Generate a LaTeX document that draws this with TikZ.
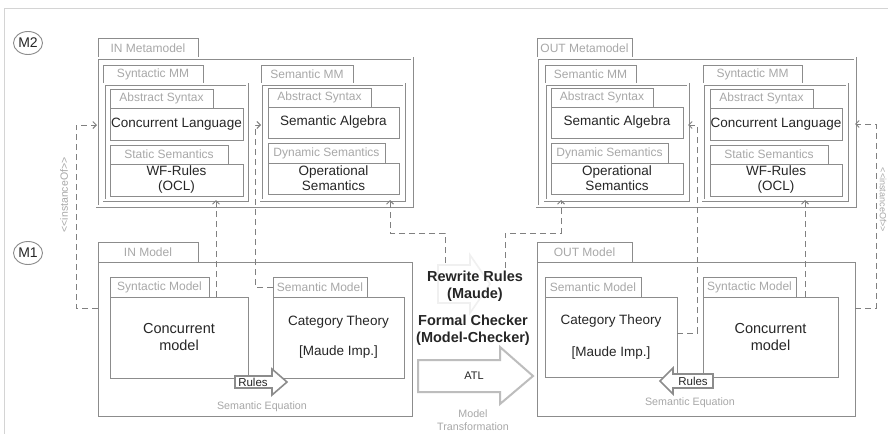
\documentclass[tikz,border=0pt]{standalone}
\usepackage{fontspec}
\setmainfont{Liberation Sans}
\usetikzlibrary{arrows.meta}
\definecolor{boxline}{HTML}{8C8C8C}
\definecolor{tabtext}{HTML}{A8A8A8}
\definecolor{maintext}{HTML}{262626}
\definecolor{dashcol}{HTML}{808080}
\definecolor{framecol}{HTML}{D4D4D4}
\definecolor{bigarrow}{HTML}{BDBDBD}
\tikzset{
  base/.style={anchor=north west, inner sep=0pt, outer sep=0pt},
  tabbox/.style={base, draw=boxline, line width=0.9pt, fill=white, text=tabtext,
    font=\fontsize{12}{12}\selectfont},
  pkg/.style={base, draw=boxline, double=white, double distance=1.6pt, line width=0.7pt},
  plainpkg/.style={base, draw=boxline, line width=1pt},
  elbox/.style={base, draw=boxline, line width=1pt, fill=white, text=maintext, align=center,
    font=\fontsize{13.5}{15}\selectfont},
  modelbox/.style={base, draw=boxline, line width=1pt, text=maintext, align=center},
  level/.style={draw=boxline, line width=0.9pt, ellipse, minimum width=29pt, minimum height=23pt,
    inner sep=0pt, text=maintext, font=\fontsize{14}{14}\selectfont},
  dashline/.style={draw=dashcol, line width=1pt, dash pattern=on 6pt off 4pt},
  tiphead/.style={-{Straight Barb[length=3.5pt,width=7pt,line width=1pt]}},
  graytext/.style={text=tabtext, inner sep=0pt, align=center},
  boldtext/.style={text=maintext, inner sep=0pt, align=center,
    font=\fontsize{14.5}{17}\selectfont\bfseries},
}
\usetikzlibrary{shapes.geometric}
\begin{document}
\begin{tikzpicture}[x=1pt,y=-1pt]
\useasboundingbox (0,0) rectangle (888,434);
\fill[white] (0,0) rectangle (888,434);
% page frame
\draw[framecol, line width=0.8pt] (888,8) -- (4,8) -- (4,434);

% level markers
\node[level] (m2) at (28,43) {M2};
\node[level] (m1) at (28,253) {M1};

% ---------------- IN Metamodel ----------------
\node[tabbox, minimum width=100pt, minimum height=20pt] (inmmTab) at (98,38) {IN Metamodel};
\node[pkg, minimum width=315pt, minimum height=148pt] (inmm) at (97,58) {};
\node[tabbox, minimum width=100pt, minimum height=19pt] (synmmTab) at (103,65) {Syntactic MM};
\node[pkg, minimum width=143pt, minimum height=116pt] (synmm) at (104,84) {};
\node[tabbox, minimum width=103pt, minimum height=19pt] (as1Tab) at (110,89) {Abstract Syntax};
\node[elbox, minimum width=133pt, minimum height=32pt] (cl1) at (110,108) {Concurrent Language};
\node[tabbox, minimum width=118pt, minimum height=19pt] (ss1Tab) at (110,145) {Static Semantics};
\node[elbox, minimum width=133pt, minimum height=32pt] (wf1) at (110,164) {WF-Rules\\(OCL)};
\node[tabbox, minimum width=92pt, minimum height=19pt] (semmmTab) at (261,65) {Semantic MM};
\node[pkg, minimum width=143pt, minimum height=116pt] (semmm) at (261,84) {};
\node[tabbox, minimum width=103pt, minimum height=19pt] (as2Tab) at (268,88) {Abstract Syntax};
\node[elbox, minimum width=131pt, minimum height=31pt] (sa1) at (268,107) {Semantic Algebra};
\node[tabbox, minimum width=117pt, minimum height=20pt] (ds1Tab) at (268,143) {Dynamic Semantics};
\node[elbox, minimum width=131pt, minimum height=31pt] (os1) at (268,163) {Operational\\Semantics};

% ---------------- OUT Metamodel ----------------
\node[tabbox, minimum width=95pt, minimum height=20pt] (outmmTab) at (537,38) {OUT Metamodel};
\node[pkg, minimum width=318pt, minimum height=148pt] (outmm) at (537,58) {};
\node[tabbox, minimum width=91pt, minimum height=19pt] (semmm2Tab) at (545,65) {Semantic MM};
\node[pkg, minimum width=143pt, minimum height=116pt] (semmm2) at (545,84) {};
\node[tabbox, minimum width=102pt, minimum height=19pt] (as3Tab) at (551,88) {Abstract Syntax};
\node[elbox, minimum width=132pt, minimum height=31pt] (sa2) at (551,107) {Semantic Algebra};
\node[tabbox, minimum width=117pt, minimum height=20pt] (ds2Tab) at (551,143) {Dynamic Semantics};
\node[elbox, minimum width=132pt, minimum height=31pt] (os2) at (551,163) {Operational\\Semantics};
\node[tabbox, minimum width=99pt, minimum height=19pt] (synmm2Tab) at (703,65) {Syntactic MM};
\node[pkg, minimum width=144pt, minimum height=116pt] (synmm2) at (703,84) {};
\node[tabbox, minimum width=103pt, minimum height=19pt] (as4Tab) at (710,89) {Abstract Syntax};
\node[elbox, minimum width=132pt, minimum height=32pt] (cl2) at (710,108) {Concurrent Language};
\node[tabbox, minimum width=118pt, minimum height=19pt] (ss2Tab) at (710,145) {Static Semantics};
\node[elbox, minimum width=132pt, minimum height=32pt] (wf2) at (710,164) {WF-Rules\\(OCL)};

% ---------------- IN Model ----------------
\node[tabbox, minimum width=100pt, minimum height=20pt] (inmTab) at (98,242) {IN Model};
\node[plainpkg, minimum width=314pt, minimum height=154pt] (inm) at (98,262) {};
\node[tabbox, minimum width=99pt, minimum height=20pt] (synmTab) at (110,277) {Syntactic Model};
\node[modelbox, minimum width=138pt, minimum height=81pt,
  font=\fontsize{14.5}{17}\selectfont] (synm) at (110,297) {Concurrent\\model};
\node[tabbox, minimum width=94pt, minimum height=20pt] (semmTab) at (273,277) {Semantic Model};
\node[modelbox, minimum width=131pt, minimum height=81pt,
  font=\fontsize{13.5}{15}\selectfont] (semm) at (273,297) {Category Theory\\[15pt]{[}Maude Imp.{]}};
\node[graytext, font=\fontsize{10.7}{12}\selectfont] (eq1) at (262,407) {Semantic Equation};

% ---------------- OUT Model ----------------
\node[tabbox, minimum width=95pt, minimum height=20pt] (outmTab) at (537,242) {OUT Model};
\node[plainpkg, minimum width=318pt, minimum height=154pt] (outm) at (537,262) {};
\node[tabbox, minimum width=96pt, minimum height=20pt] (semm2Tab) at (545,277) {Semantic Model};
\node[modelbox, minimum width=132pt, minimum height=80pt,
  font=\fontsize{13.5}{15}\selectfont] (semm2) at (545,297) {Category Theory\\[17pt]{[}Maude Imp.{]}};
\node[tabbox, minimum width=93pt, minimum height=20pt] (synm2Tab) at (703,277) {Syntactic Model};
\node[modelbox, minimum width=135pt, minimum height=80pt,
  font=\fontsize{14.5}{17}\selectfont] (synm2) at (703,297) {Concurrent\\model};
\node[graytext, font=\fontsize{10.7}{12}\selectfont] (eq2) at (690,403) {Semantic Equation};

% "Rules" block arrows inside the models
\draw[boxline, line width=1.6pt, fill=white, line join=miter]
  (235,376) -- (272,376) -- (272,369) -- (287,382) -- (272,395) -- (272,388) -- (235,388) -- cycle;
\node[text=maintext, inner sep=0pt, font=\fontsize{11.5}{12}\selectfont] (rules1) at (253,382) {Rules};
\draw[boxline, line width=1.6pt, fill=white, line join=miter]
  (713,374) -- (673,374) -- (673,368) -- (660,381) -- (673,394) -- (673,388) -- (713,388) -- cycle;
\node[text=maintext, inner sep=0pt, font=\fontsize{11.5}{12}\selectfont] (rules2) at (693,381) {Rules};

% ---------------- Model transformation ----------------
\draw[gray!12, line width=1.6pt] (438,265) -- (470,265) -- (470,255) -- (490,284) -- (470,313) -- (470,303) -- (438,303) -- cycle;
\draw[bigarrow, line width=2pt, fill=white, line join=miter]
  (418,360) -- (500,360) -- (500,347) -- (533,376) -- (500,404) -- (500,392) -- (418,392) -- cycle;
\node[text=maintext, inner sep=0pt, font=\fontsize{11}{12}\selectfont] (atl) at (474,376) {ATL};
\node[boldtext] (rw) at (475,286) {Rewrite Rules\\(Maude)};
\node[boldtext] (fc) at (473,330) {Formal Checker\\(Model-Checker)};
\node[graytext, font=\fontsize{10.7}{13}\selectfont] (mt) at (473,420) {Model\\Transformation};
\coordinate (rwl) at (445,263);
\coordinate (rwr) at (505,268);

% ---------------- dashed dependencies ----------------
\draw[dashline, tiphead] (inm.west |- 0,308) -- (76,308) -- (76,125) -- (inmm.west |- 0,125);
\node[graytext, rotate=90, font=\fontsize{10.5}{11}\selectfont] (io1) at (64,195) {<{}<instanceOf>{}>};
\draw[dashline, tiphead] (synm.north -| 216,0) -- (synmm.south -| 216,0);
\draw[dashline, tiphead] (semmTab.west) -- (255,287) -- (255,125) -- (semmm.west |- 0,125);
\draw[dashline, tiphead] (rwl) -- (445,233) -- (390,233) -- (semmm.south -| 390,0);
\draw[dashline, tiphead] (rwr) -- (505,233) -- (561,233) -- (semmm2.south -| 561,0);
\draw[dashline, tiphead] (semm2.east |- 0,333) -- (697,333) -- (697,125) -- (semmm2.east |- 0,125);
\draw[dashline, tiphead] (synm2.north -| 805,0) -- (synmm2.south -| 805,0);
\draw[dashline, tiphead] (outm.east |- 0,308) -- (876,308) -- (876,124) -- (outmm.east |- 0,124);
\node[graytext, rotate=-90, font=\fontsize{9}{9}\selectfont] (io2) at (883,200) {<{}<instanceOf>{}>};
\end{tikzpicture}
\end{document}
